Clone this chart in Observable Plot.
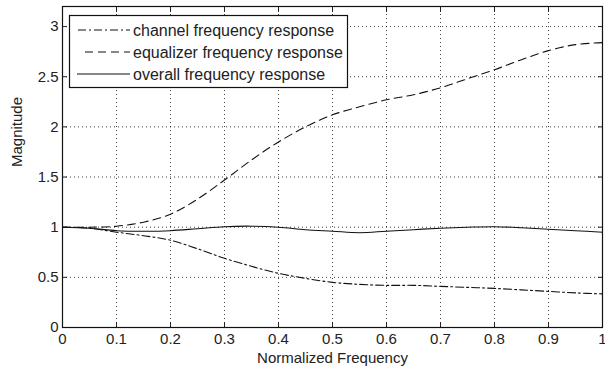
<!DOCTYPE html>
<html>
<head>
<meta charset="utf-8">
<script src="https://cdn.jsdelivr.net/npm/d3@7"></script>
<script src="https://cdn.jsdelivr.net/npm/@observablehq/plot@0.6"></script>
<style>
  html, body { margin: 0; padding: 0; background: #fff; }
  #chart { width: 605px; height: 375px; position: relative; }
</style>
</head>
<body>
<div id="chart"></div>
<script>
// Normalized frequency sample points
const freq = [0, 0.05, 0.1, 0.15, 0.2, 0.25, 0.3, 0.35, 0.4, 0.45, 0.5, 0.55, 0.6, 0.65, 0.7, 0.75, 0.8, 0.85, 0.9, 0.95, 1.0];
// Series values
const channel   = [1.00, 0.99, 0.95, 0.915, 0.87, 0.785, 0.69, 0.61, 0.54, 0.49, 0.45, 0.43, 0.42, 0.42, 0.41, 0.40, 0.39, 0.375, 0.36, 0.345, 0.335];
const equalizer = [1.00, 1.00, 1.01, 1.05, 1.13, 1.28, 1.47, 1.67, 1.85, 2.00, 2.12, 2.20, 2.27, 2.32, 2.39, 2.48, 2.57, 2.67, 2.76, 2.82, 2.84];
const overall   = [1.00, 0.99, 0.965, 0.96, 0.965, 0.985, 1.005, 1.01, 1.00, 0.975, 0.96, 0.945, 0.96, 0.975, 0.99, 1.00, 1.005, 0.995, 0.98, 0.965, 0.95];
// Tick values and labels
const xTicks = [0, 0.1, 0.2, 0.3, 0.4, 0.5, 0.6, 0.7, 0.8, 0.9, 1];
const xTickLabels = ["0", "0.1", "0.2", "0.3", "0.4", "0.5", "0.6", "0.7", "0.8", "0.9", "1"];
const yTicks = [0, 0.5, 1, 1.5, 2, 2.5, 3];
const yTickLabels = ["0", "0.5", "1", "1.5", "2", "2.5", "3"];
const seriesNames = ["channel frequency response", "equalizer frequency response", "overall frequency response"];
const xTitle = "Normalized Frequency";
const yTitle = "Magnitude";

const dashes = ["8,3,2,3", "8,5", null];
const seriesValues = [channel, equalizer, overall];

const xFmt = d => xTickLabels[xTicks.indexOf(d)];
const yFmt = d => yTickLabels[yTicks.indexOf(d)];
const blank = () => "";

const lineMarks = seriesValues.map((vals, s) =>
  Plot.line(freq, {
    x: d => d,
    y: (d, i) => vals[i],
    stroke: "#111",
    strokeWidth: 1.1,
    strokeDasharray: dashes[s] || undefined,
    curve: "catmull-rom"
  })
);

const chart = Plot.plot({
  width: 605,
  height: 375,
  marginLeft: 62,
  marginRight: 3,
  marginTop: 6,
  marginBottom: 48,
  style: {fontFamily: "'Liberation Sans', Arial, sans-serif", fontSize: "14px", background: "#fff", color: "#222"},
  x: {domain: [0, 1]},
  y: {domain: [0, 3.2]},
  marks: [
    Plot.gridX(xTicks, {stroke: "#000", strokeOpacity: 0.75, strokeDasharray: "1,3"}),
    Plot.gridY(yTicks, {stroke: "#000", strokeOpacity: 0.75, strokeDasharray: "1,3"}),
    // inward tick marks on all four sides
    Plot.axisX(xTicks, {anchor: "bottom", tickSize: 5, dy: -5, tickFormat: blank, label: null}),
    Plot.axisX(xTicks, {anchor: "top", tickSize: 5, dy: 5, tickFormat: blank, label: null}),
    Plot.axisY(yTicks, {anchor: "left", tickSize: 5, dx: 5, tickFormat: blank, label: null}),
    Plot.axisY(yTicks, {anchor: "right", tickSize: 5, dx: -5, tickFormat: blank, label: null}),
    // tick labels
    Plot.axisX(xTicks, {anchor: "bottom", tickSize: 0, tickPadding: 6, tickFormat: xFmt, label: null, fontSize: 15}),
    Plot.axisY(yTicks, {anchor: "left", tickSize: 0, tickPadding: 4, tickFormat: yFmt, label: null, fontSize: 15}),
    ...lineMarks,
    Plot.frame({stroke: "#111", strokeWidth: 1.2}),
    Plot.text([xTitle], {frameAnchor: "bottom", dy: 31, fontSize: 15, lineAnchor: "middle"}),
    Plot.text([yTitle], {frameAnchor: "left", dx: -45, rotate: -90, fontSize: 15, lineAnchor: "middle"})
  ]
});

document.getElementById("chart").appendChild(chart);

// Legend box drawn inside the plot area (upper left)
const svg = d3.select(chart);
const lg = svg.append("g")
  .attr("font-family", "'Liberation Sans', Arial, sans-serif")
  .attr("font-size", 16)
  .attr("text-anchor", "start")
  .attr("fill", "#222");
lg.append("rect").attr("x", 69.5).attr("y", 15.5).attr("width", 278).attr("height", 72)
  .attr("fill", "#fff").attr("stroke", "#111").attr("stroke-width", 1.2);
const rowY = [30, 52, 74];
const lineStart = [78, 85, 77];
seriesNames.forEach((name, i) => {
  const ln = lg.append("line").attr("x1", lineStart[i]).attr("x2", 130).attr("y1", rowY[i]).attr("y2", rowY[i])
    .attr("stroke", "#111").attr("stroke-width", 1.1);
  if (dashes[i]) ln.attr("stroke-dasharray", dashes[i]);
  lg.append("text").attr("x", 133).attr("y", rowY[i]).attr("dy", "0.35em").attr("text-anchor", "start").text(name);
});
</script>
</body>
</html>
